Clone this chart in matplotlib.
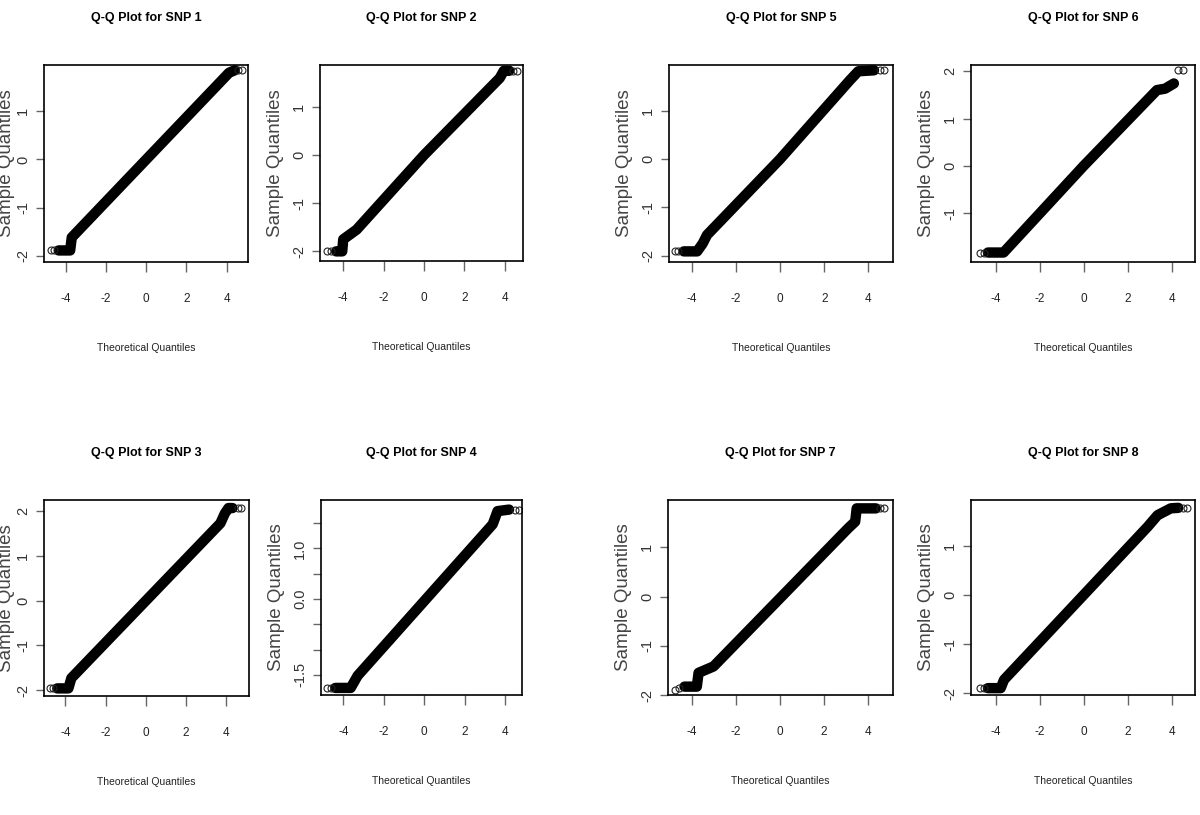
import matplotlib.pyplot as plt

# Q-Q plots of 8 SNPs: each dense run of points read off as a few vertices
# (theoretical quantile, sample quantile), plus the open circles at the ends.
SNP1_X = [-4.35, -3.78, -3.70, 4.12, 4.40]
SNP1_Y = [-1.89, -1.89, -1.62, 1.80, 1.85]
SNP1_OUT_X = [-4.75, -4.60, 4.58, 4.74]
SNP1_OUT_Y = [-1.89, -1.89, 1.85, 1.85]

SNP2_X = [-4.35, -4.05, -4.00, -3.34, 0.0, 3.75, 3.95, 4.22]
SNP2_Y = [-2.00, -2.00, -1.75, -1.55, 0.0, 1.60, 1.75, 1.75]
SNP2_OUT_X = [-4.80, -4.63, 4.40, 4.60]
SNP2_OUT_Y = [-2.00, -2.00, 1.75, 1.75]

SNP3_X = [-4.40, -3.85, -3.70, 3.70, 3.92, 4.10, 4.30]
SNP3_Y = [-1.96, -1.96, -1.73, 1.73, 1.95, 2.07, 2.07]
SNP3_OUT_X = [-4.77, -4.60, 4.55, 4.74]
SNP3_OUT_Y = [-1.96, -1.96, 2.07, 2.07]

SNP4_X = [-4.40, -3.64, -3.30, 3.39, 3.63, 4.20]
SNP4_Y = [-1.76, -1.76, -1.52, 1.48, 1.74, 1.77]
SNP4_OUT_X = [-4.80, -4.63, 4.50, 4.68]
SNP4_OUT_Y = [-1.76, -1.76, 1.77, 1.77]

SNP5_X = [-4.35, -3.75, -3.50, -3.30, 0.0, 3.17, 3.54, 4.25]
SNP5_Y = [-1.91, -1.91, -1.75, -1.57, 0.0, 1.64, 1.82, 1.84]
SNP5_OUT_X = [-4.75, -4.60, 4.52, 4.70]
SNP5_OUT_Y = [-1.91, -1.91, 1.84, 1.84]

SNP6_X = [-4.35, -3.64, -3.40, 0.0, 3.33, 3.70, 4.10]
SNP6_Y = [-1.83, -1.83, -1.71, 0.0, 1.60, 1.63, 1.74]
SNP6_OUT_X = [-4.70, -4.55, 4.30, 4.50]
SNP6_OUT_Y = [-1.83, -1.83, 2.02, 2.02]

SNP7_X = [-4.35, -3.79, -3.71, -3.03, 3.10, 3.41, 3.48, 4.35]
SNP7_Y = [-1.83, -1.83, -1.55, -1.42, 1.39, 1.52, 1.79, 1.79]
SNP7_OUT_X = [-4.77, -4.62, 4.55, 4.72]
SNP7_OUT_Y = [-1.90, -1.86, 1.79, 1.79]

SNP8_X = [-4.35, -3.77, -3.62, 2.90, 3.36, 3.96, 4.30]
SNP8_Y = [-1.90, -1.90, -1.73, 1.39, 1.63, 1.77, 1.78]
SNP8_OUT_X = [-4.70, -4.55, 4.52, 4.70]
SNP8_OUT_Y = [-1.90, -1.90, 1.78, 1.78]

X_TICKS = [-4, -2, 0, 2, 4]
Y_TICKS_STD = [-2, -1, 0, 1]
Y_TICKS_SNP3 = [-2, -1, 0, 1, 2]
Y_TICKS_SNP4 = [-1.5, -1.0, -0.5, 0.0, 0.5, 1.0, 1.5]
Y_LABELS_SNP4 = ["-1.5", "", "", "0.0", "", "1.0", ""]
Y_TICKS_SNP6 = [-1, 0, 1, 2]

NARROW = ["Liberation Sans Narrow", "Liberation Sans", "DejaVu Sans"]
REGULAR = ["Liberation Sans", "DejaVu Sans"]

W, H = 1200, 815

# (name, x, y, out_x, out_y, box px (l, t, r, b), xlim, ylim, yticks, ylabels)
panels = [
    ("SNP 1", SNP1_X, SNP1_Y, SNP1_OUT_X, SNP1_OUT_Y, (44, 65, 248, 262),
     (-5.08, 5.06), (-2.13, 1.96), Y_TICKS_STD, None),
    ("SNP 2", SNP2_X, SNP2_Y, SNP2_OUT_X, SNP2_OUT_Y, (320, 65, 523, 261),
     (-5.15, 4.90), (-2.20, 1.87), Y_TICKS_STD, None),
    ("SNP 3", SNP3_X, SNP3_Y, SNP3_OUT_X, SNP3_OUT_Y, (44, 500, 249, 696),
     (-5.06, 5.12), (-2.13, 2.25), Y_TICKS_SNP3, None),
    ("SNP 4", SNP4_X, SNP4_Y, SNP4_OUT_X, SNP4_OUT_Y, (321, 500, 522, 695),
     (-5.11, 4.84), (-1.90, 1.96), Y_TICKS_SNP4, Y_LABELS_SNP4),
    ("SNP 5", SNP5_X, SNP5_Y, SNP5_OUT_X, SNP5_OUT_Y, (669, 65, 893, 262),
     (-5.02, 5.11), (-2.13, 1.95), Y_TICKS_STD, None),
    ("SNP 6", SNP6_X, SNP6_Y, SNP6_OUT_X, SNP6_OUT_Y, (971, 65, 1195, 262),
     (-5.12, 5.06), (-2.03, 2.13), Y_TICKS_SNP6, None),
    ("SNP 7", SNP7_X, SNP7_Y, SNP7_OUT_X, SNP7_OUT_Y, (668, 500, 893, 695),
     (-5.10, 5.13), (-2.00, 1.96), Y_TICKS_STD, None),
    ("SNP 8", SNP8_X, SNP8_Y, SNP8_OUT_X, SNP8_OUT_Y, (971, 500, 1195, 695),
     (-5.12, 5.06), (-2.04, 1.94), Y_TICKS_STD, None),
]

fig = plt.figure(figsize=(W / 100, H / 100), dpi=100)

for name, xs, ys, ox, oy, box, xlim, ylim, yticks, ylabels in panels:
    l, t, r, b = box
    ax = fig.add_axes([l / W, 1 - b / H, (r - l) / W, (b - t) / H])

    # dense run of overlapping circles -> thick round-capped band
    ax.plot(xs, ys, color="black", linewidth=7.5,
            solid_capstyle="round", solid_joinstyle="round")
    ax.plot(ox, oy, "o", markerfacecolor="none", markeredgecolor="#222222",
            markersize=5, markeredgewidth=0.8, linestyle="none")

    ax.set_xlim(*xlim)
    ax.set_ylim(*ylim)

    ax.set_xticks(X_TICKS)
    ax.set_xticklabels([str(v) for v in X_TICKS], fontfamily=NARROW,
                       fontsize=8.5, color="#222222")
    ax.set_yticks(yticks)
    if ylabels is None:
        ylabels = [str(v) for v in yticks]
    ax.set_yticklabels(ylabels, fontfamily=REGULAR, fontsize=10.5,
                       color="#333333", rotation=90, va="center")

    ax.tick_params(axis="x", direction="out", length=7.5, width=1,
                   color="#666666", pad=15)
    ax.tick_params(axis="y", direction="out", length=6, width=1,
                   color="#666666", pad=4)

    for s in ax.spines.values():
        s.set_linewidth(1.2)
        s.set_color("black")

    ax.set_title(f"Q-Q Plot for {name}", fontfamily=NARROW, fontsize=9,
                 fontweight="bold", pad=32)
    ax.set_xlabel("Theoretical Quantiles", fontfamily=NARROW, fontsize=7.5,
                  color="#222222", labelpad=27)
    # left column sits against the figure edge; keep its label just inside
    ax.set_ylabel("Sample Quantiles", fontfamily=REGULAR, fontsize=13.5,
                  color="#444444", labelpad=0.5 if l < 100 else 6)

fig.savefig("out.png", dpi=100, facecolor="white")
plt.close(fig)
